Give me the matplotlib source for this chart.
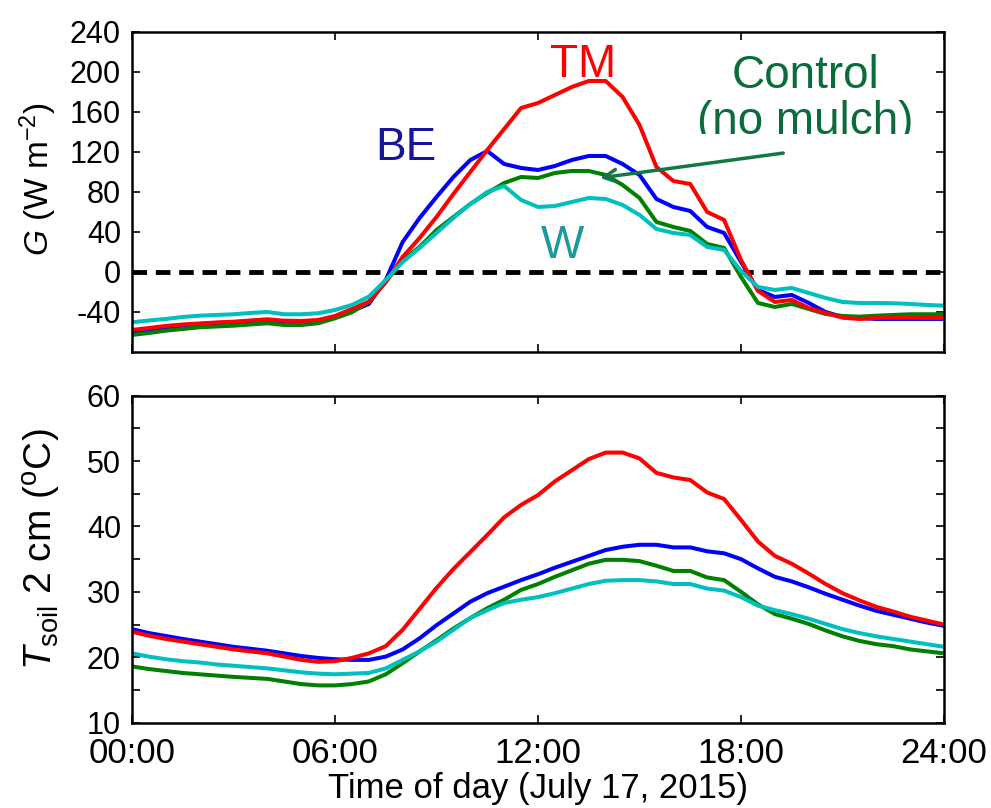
import numpy as np
import matplotlib
matplotlib.use('Agg')
import matplotlib.pyplot as plt
from matplotlib.transforms import Bbox, TransformedBbox

plt.rcParams['font.family'] = ['Liberation Sans', 'DejaVu Sans']
plt.rcParams['mathtext.fontset'] = 'custom'
plt.rcParams['mathtext.rm'] = 'Liberation Sans'
plt.rcParams['mathtext.it'] = 'Liberation Sans:italic'
plt.rcParams['axes.unicode_minus'] = False

# half-hourly time axis (hours)
hours = np.arange(49) * 0.5

# soil heat flux G (W m-2)
g_tm = [-58, -56, -54, -52.5, -51.5, -50.5, -49.7, -48.5, -47.3, -48.7, -49, -48, -44, -37, -29.7, -10,
        15, 34, 55, 78, 100, 122, 143, 164, 169, 177, 185, 191, 191, 175, 147, 105, 91, 88, 60, 52,
        12, -19, -30, -28, -36, -41, -45.7, -47, -46, -45.7, -45.7, -46, -46]
g_be = [-60, -58, -55.5, -53.5, -52, -51, -50.5, -49, -48, -49.5, -50, -49, -45, -39, -32, -8,
        30, 54, 75, 95, 112, 121, 108, 104, 102, 106, 112, 116, 116, 108, 97, 73, 65, 61, 45, 39,
        10, -18, -25, -23, -31, -40, -45, -46, -47, -47, -47, -47, -47]
g_ctrl = [-63, -61, -58.7, -57, -55.3, -54.5, -53.7, -52.5, -51.3, -53, -53, -51.3, -46.3, -40.3, -30, -10,
          12, 25, 42, 55, 68, 79, 89, 95, 94, 99, 101, 101, 97, 87, 74, 50, 45, 41, 28, 24,
          -5, -31, -35, -32, -37, -42, -44, -44.7, -43.7, -43, -42.3, -42.3, -42.3]
g_w = [-50.3, -48.5, -47, -45, -43.7, -43, -42.3, -41, -40, -42.3, -42.3, -41.3, -38, -33, -24.7, -8,
       10, 24, 39, 54, 68, 80, 86, 72, 65, 66, 70, 74, 73, 67, 57, 43, 39, 37, 25, 22,
       1, -15, -18, -16, -21, -26, -30, -31, -31, -31.3, -32, -33, -33.7]

# soil temperature at 2 cm (deg C)
t_tm = [23.9, 23.3, 22.8, 22.4, 22.0, 21.6, 21.2, 20.9, 20.6, 20.1, 19.6, 19.3, 19.4, 19.9, 20.6, 21.7,
        24.2, 27.4, 30.6, 33.5, 36.1, 38.7, 41.4, 43.3, 44.8, 46.9, 48.6, 50.3, 51.3, 51.3, 50.4, 48.2,
        47.5, 47.1, 45.2, 44.2, 41.0, 37.7, 35.5, 34.3, 32.8, 31.2, 29.8, 28.7, 27.7, 27.0, 26.2, 25.6, 25.0]
t_be = [24.3, 23.7, 23.25, 22.8, 22.4, 22.0, 21.6, 21.3, 21.0, 20.6, 20.2, 19.9, 19.7, 19.6, 19.6, 20.1,
        21.2, 22.9, 24.9, 26.7, 28.5, 29.8, 30.8, 31.8, 32.7, 33.7, 34.6, 35.5, 36.4, 36.9, 37.2, 37.2,
        36.8, 36.8, 36.2, 35.9, 35.0, 33.6, 32.3, 31.6, 30.7, 29.7, 28.8, 27.9, 27.1, 26.5, 25.9, 25.3, 24.8]
t_ctrl = [18.6, 18.2, 17.9, 17.6, 17.4, 17.2, 17.0, 16.85, 16.7, 16.3, 15.9, 15.7, 15.7, 15.9, 16.3, 17.4,
          19.1, 20.9, 22.6, 24.4, 26.0, 27.5, 28.8, 30.3, 31.2, 32.3, 33.3, 34.3, 34.9, 34.9, 34.7, 34.0,
          33.2, 33.2, 32.2, 31.8, 30.0, 28.1, 26.6, 25.9, 25.1, 24.1, 23.2, 22.5, 22.0, 21.7, 21.2, 20.9, 20.6]
t_w = [20.6, 20.1, 19.7, 19.4, 19.2, 18.9, 18.7, 18.5, 18.3, 18.0, 17.7, 17.5, 17.4, 17.5, 17.6, 18.3,
       19.6, 20.9, 22.4, 24.2, 26.0, 27.2, 28.3, 28.8, 29.2, 29.8, 30.5, 31.2, 31.7, 31.8, 31.8, 31.6,
       31.2, 31.2, 30.5, 30.2, 29.2, 27.9, 27.2, 26.6, 25.9, 25.1, 24.3, 23.7, 23.2, 22.8, 22.4, 22.0, 21.6]

xticks = [0, 6, 12, 18, 24]
xticklabels = ['00:00', '06:00', '12:00', '18:00', '24:00']

c_tm, c_be, c_ctrl, c_w = 'red', 'blue', (0, 0.5, 0), (0, 0.75, 0.75)
lw = 2.9

fig = plt.figure(figsize=(9.91, 8.08), dpi=100)
ax1 = fig.add_axes([0.1332, 0.5644, 0.8194, 0.396])
ax2 = fig.add_axes([0.1332, 0.1056, 0.8194, 0.4047])

# top panel: G
ax1.axhline(0, color='black', lw=3.5, ls=(0, (3.0, 1.8)), zorder=1)
ax1.plot(hours, g_be, color=c_be, lw=lw)
ax1.plot(hours, g_ctrl, color=c_ctrl, lw=lw)
ax1.plot(hours, g_tm, color=c_tm, lw=lw)
ax1.plot(hours, g_w, color=c_w, lw=lw)
ax1.set_xlim(0, 24)
ax1.set_ylim(-80, 240)
ax1.set_yticks(np.arange(-40, 241, 40))
ax1.set_xticks(xticks)
ax1.set_xticklabels([])
ax1.set_ylabel(r'$G$ (W m$^{-2}$)', fontsize=24)
ax1.yaxis.set_label_coords(-0.09, 0.54)

ax1.text(13.33, 195, 'TM', color='red', fontsize=33, ha='center', va='baseline')
ax1.text(8.1, 112, 'BE', color='#16169a', fontsize=33, ha='center', va='baseline')
ax1.text(12.71, 14, 'W', color='#1a9a9a', fontsize=33, ha='center', va='baseline')
ax1.text(19.9, 184, 'Control', color='#0b6b3a', fontsize=33, ha='center', va='baseline')
nm = ax1.text(19.9, 138, '(no mulch)', color='#0b6b3a', fontsize=33, ha='center', va='baseline')
nm.set_clip_box(TransformedBbox(Bbox([[0, 137.5], [24, 240]]), ax1.transData))
nm.set_clip_on(True)
ax1.annotate('', xy=(13.75, 93.7), xytext=(19.33, 119.3),
             arrowprops=dict(arrowstyle='->,head_length=0.9,head_width=0.45', color='#117744', lw=2.5))

# bottom panel: soil temperature
ax2.plot(hours, t_be, color=c_be, lw=lw)
ax2.plot(hours, t_ctrl, color=c_ctrl, lw=lw)
ax2.plot(hours, t_tm, color=c_tm, lw=lw)
ax2.plot(hours, t_w, color=c_w, lw=lw)
ax2.set_xlim(0, 24)
ax2.set_ylim(10, 60)
ax2.set_yticks(np.arange(10, 61, 5))
ax2.set_yticklabels([str(v) if v % 10 == 0 else '' for v in range(10, 61, 5)])
ax2.set_xticks(xticks)
ax2.set_xticklabels(xticklabels)
ax2.set_xlabel('Time of day (July 17, 2015)', fontsize=25, labelpad=2)
ax2.set_ylabel(r'$T_{\rm soil}$ 2 cm ($^{\rm o}$C)', fontsize=28)
ax2.yaxis.set_label_coords(-0.085, 0.53)

for ax in (ax1, ax2):
    for s in ax.spines.values():
        s.set_linewidth(1.8)
    ax.tick_params(direction='in', length=6, width=1.2, top=True, right=True)
    ax.tick_params(axis='y', labelsize=22, pad=8)
    ax.tick_params(axis='x', labelsize=25, pad=10)

fig.savefig('out.png', dpi=100)
